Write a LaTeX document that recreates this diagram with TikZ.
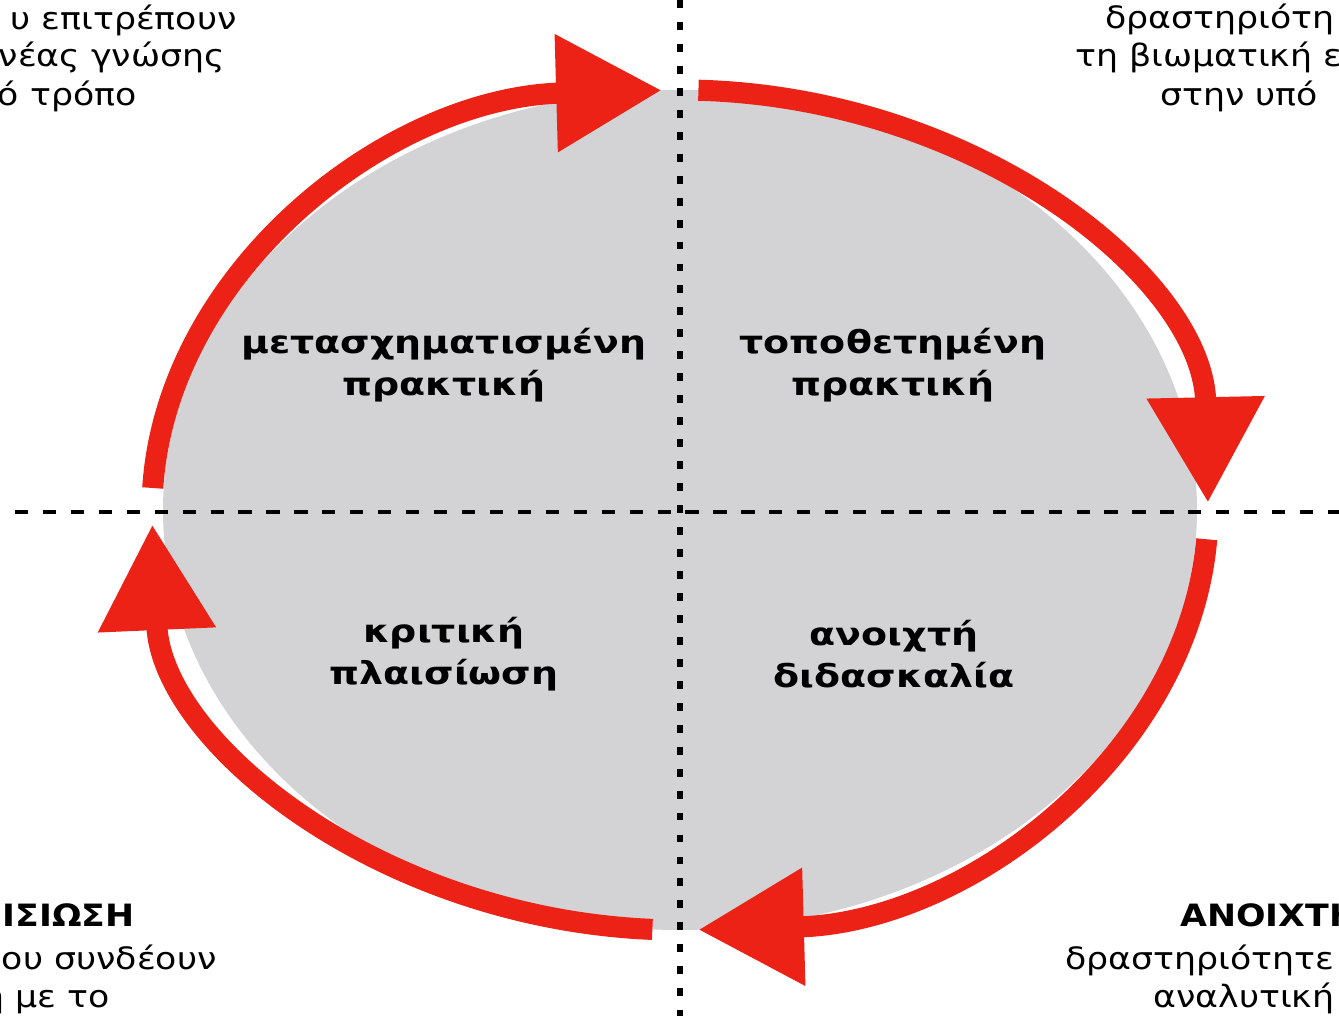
\documentclass[tikz,border=0pt]{standalone}
\usepackage{fontspec}
\setmainfont{DejaVu Sans}[FakeStretch=1.2]
\newfontfamily\cornerfont{DejaVu Sans}[FakeStretch=1.13]
\usepackage{tikz}
\usetikzlibrary{arrows.meta,positioning,calc}
\definecolor{crayonred}{RGB}{236,34,22}
\definecolor{discgray}{RGB}{211,211,213}
\tikzset{
  disc/.style = {fill=discgray, draw=none},
  quadlabel/.style = {font=\fontsize{18}{24}\selectfont\bfseries, align=center, inner sep=0pt},
  cornertext/.style = {font=\cornerfont\fontsize{17.5}{21.5}\selectfont, inner sep=0pt},
  cornerhead/.style = {cornertext, font=\cornerfont\fontsize{17.5}{21.5}\selectfont\bfseries},
  cyclearrow/.style = {-{Triangle[length=60pt,width=64pt]}, crayonred, line width=12pt},
  vaxis/.style = {line width=3.4pt, dash pattern=on 4.5pt off 8pt},
  haxis/.style = {line width=2.8pt, dash pattern=on 7.5pt off 8.4pt},
}

\begin{document}
\begin{tikzpicture}[x=0.02cm, y=0.02cm]
\useasboundingbox (0,0) rectangle (1339,1016);

% the grey disc
\coordinate (c) at (680,506);
\fill[disc] (c) ellipse [x radius=517, y radius=420];

% the two axes
\coordinate (vtop) at (680,1016);
\coordinate (vbot) at (680,0);
\coordinate (hleft) at (15,504);
\coordinate (hright) at (1339,504);
\draw[vaxis] (vtop) -- (vbot);
\draw[haxis] (hleft) -- (hright);

% the four arrows of the cycle
\coordinate (tlstart) at ($(c)+(177:528 and 420)$);
\coordinate (trstart) at ($(c)+(88:528 and 420)$);
\coordinate (brstart) at ($(c)+(-4:528 and 420)$);
\coordinate (blstart) at ($(c)+(-93:528 and 420)$);
\draw[cyclearrow] (tlstart) arc[start angle=177, end angle=92, x radius=528, y radius=420];
\draw[cyclearrow] (trstart) arc[start angle=88, end angle=1, x radius=528, y radius=420];
\draw[cyclearrow] (brstart) arc[start angle=-4, end angle=-88, x radius=528, y radius=420];
\draw[cyclearrow] (blstart) arc[start angle=-93, end angle=-178, x radius=528, y radius=420];

% quadrant labels
\node[quadlabel] (metas) at (444,651) {μετασχηματισμένη\\πρακτική};
\node[quadlabel] (topoth) at (893,651) {τοποθετημένη\\πρακτική};
\node[quadlabel] (kritiki) at (444,362) {κριτική\\πλαισίωση};
\node[quadlabel] (anoixti) at (894,362) {ανοιχτή\\διδασκαλία};

% corner texts, cut by the frame
\node[cornertext, anchor=base east] (tl1) at (237,986) {υ επιτρέπουν};
\node[cornertext, anchor=base east] (tl2) at (225,949) {νέας γνώσης};
\node[cornertext, anchor=base east] (tl3) at (137,910) {ό τρόπο};
\node[cornertext, anchor=base west] (tr1) at (1105,987) {δραστηριότη};
\node[cornertext, anchor=base west] (tr2) at (1075,949) {τη βιωματική ε};
\node[cornertext, anchor=base west] (tr3) at (1160,910) {στην υπό};
\node[cornerhead, anchor=base east] (bl1) at (135,89) {ΙΣΙΩΣΗ};
\node[cornertext, anchor=base east] (bl2) at (217,46) {ου συνδέουν};
\node[cornertext, anchor=base east] (bl3) at (110,8) {η με το};
\node[cornerhead, anchor=base west] (br1) at (1180,89) {ΑΝΟΙΧΤΗ};
\node[cornertext, anchor=base west] (br2) at (1065,46) {δραστηριότητε};
\node[cornertext, anchor=base west] (br3) at (1153,8) {αναλυτική};

\end{tikzpicture}
\end{document}
